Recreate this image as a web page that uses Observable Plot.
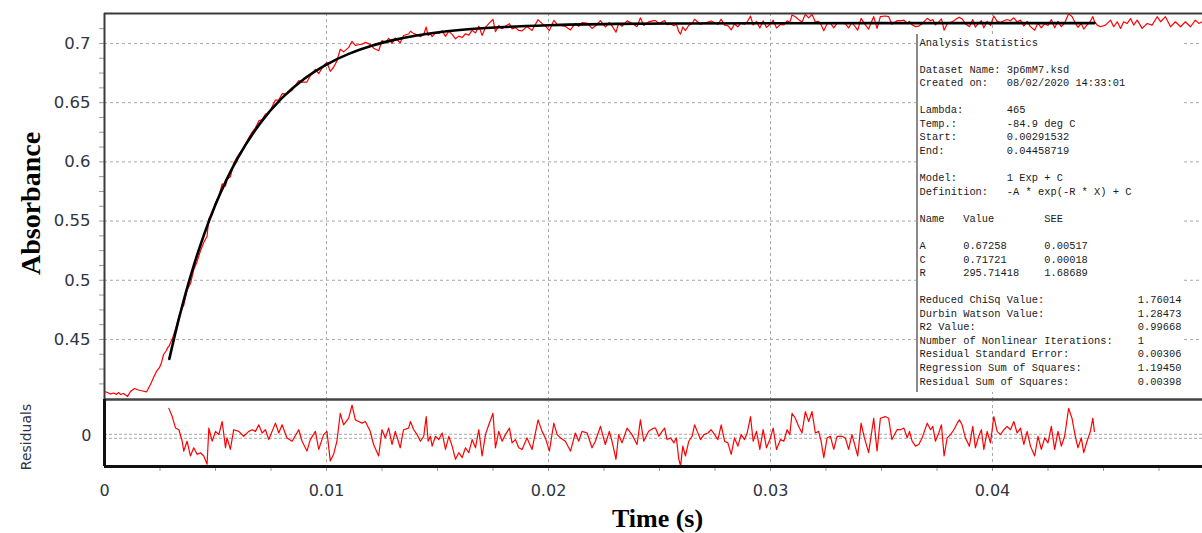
<!DOCTYPE html>
<html><head><meta charset="utf-8">
<script src="https://cdn.jsdelivr.net/npm/d3@7"></script>
<script src="https://cdn.jsdelivr.net/npm/@observablehq/plot@0.6"></script>
<style>
body{margin:0;background:#fff;}
#wrap{position:relative;width:1202px;height:533px;overflow:hidden;background:#fff;}
#wrap svg{position:absolute;left:0;overflow:visible;}
#stats{position:absolute;left:916px;top:34px;width:266px;height:358px;background:#fff;border-left:2px solid #8a8a8a;box-sizing:border-box;padding:2.5px 0 0 1.5px;font-family:"Liberation Mono",monospace;font-size:10.4px;line-height:13.56px;color:#1a1a1a;white-space:pre;}
</style></head><body><div id="wrap"></div>
<script>
// ---------- axes / ticks ----------
const xDomain = [0, 0.04946];
const yDomain = [0.3993, 0.7253];
const resDomain = [-0.0092, 0.0112];
const xTicks = [0, 0.01, 0.02, 0.03, 0.04];
const xGridTicks = [0.01, 0.02, 0.03, 0.04];
const xMinorTicks = [0.0025,0.005,0.0075,0.01,0.0125,0.015,0.0175,0.02,0.0225,0.025,0.0275,0.03,0.0325,0.035,0.0375,0.04,0.0425,0.045,0.0475];
const yTicks = [0.45, 0.5, 0.55, 0.6, 0.65, 0.7];
const yMinorTicks = [0.4125,0.425,0.4375,0.45,0.4625,0.475,0.4875,0.5,0.5125,0.525,0.5375,0.55,0.5625,0.575,0.5875,0.6,0.6125,0.625,0.6375,0.65,0.6625,0.675,0.6875,0.7,0.7125];

// ---------- raw absorbance before the fitted range ----------
const preTime = [0,0.00014,0.00027,0.00041,0.00054,0.00063,0.00072,0.00086,0.00104,0.00117,0.00135,0.00153,0.00171,0.00189,0.00207,0.00221,0.00234,0.00248,0.00257,0.00266,0.00279,0.00284];
const preAbs  = [0.4061,0.4052,0.4040,0.4048,0.4036,0.4052,0.4036,0.4044,0.4019,0.4061,0.4086,0.4073,0.4065,0.4057,0.4120,0.4179,0.4230,0.4264,0.4306,0.4373,0.4407,0.4430];

// ---------- fitted range: time, raw absorbance, residuals ----------
const fitTime = [
0.00290,0.00305,0.00320,0.00335,0.00350,0.00357,0.00372,0.00387,0.00402,0.00417,
0.00432,0.00447,0.00462,0.00470,0.00485,0.00500,0.00515,0.00530,0.00545,0.00552,
0.00567,0.00582,0.00605,0.00627,0.00650,0.00665,0.00680,0.00695,0.00710,0.00725,
0.00740,0.00770,0.00785,0.00800,0.00822,0.00845,0.00875,0.00890,0.00912,0.00927,
0.00950,0.00965,0.00987,0.01002,0.01017,0.01032,0.01047,0.01062,0.01077,0.01100,
0.01115,0.01130,0.01145,0.01160,0.01175,0.01197,0.01212,0.01235,0.01250,0.01265,
0.01280,0.01295,0.01310,0.01332,0.01347,0.01370,
0.01378,0.01393,0.01408,0.01423,0.01438,0.01449,0.01458,0.01468,0.01476,0.01491,
0.01506,0.01521,0.01536,0.01551,0.01566,0.01581,0.01596,0.01611,0.01626,0.01641,
0.01656,0.01671,0.01686,0.01701,0.01716,0.01731,0.01750,0.01761,0.01776,0.01791,
0.01806,0.01824,0.01836,0.01851,0.01866,0.01881,0.01903,0.01926,0.01953,0.01971,
0.01986,0.02004,0.02024,0.02039,0.02054,0.02076,0.02099,0.02121,0.02136,0.02151,
0.02174,0.02196,0.02211,0.02234,0.02256,0.02274,0.02286,0.02304,0.02316,0.02331,
0.02354,0.02376,0.02399,0.02414,0.02429,0.02451,0.02474,
0.02482,0.02497,0.02512,0.02523,0.02534,0.02550,0.02565,0.02576,0.02587,0.02595,
0.02605,0.02617,0.02632,0.02647,0.02658,0.02670,0.02685,0.02700,0.02718,0.02733,
0.02748,0.02763,0.02778,0.02793,0.02808,0.02823,0.02838,0.02853,0.02868,0.02883,
0.02895,0.02910,0.02922,0.02937,0.02952,0.02967,0.02982,0.03000,0.03012,0.03027,
0.03045,0.03060,0.03075,0.03087,0.03097,0.03112,0.03127,0.03142,0.03157,0.03172,
0.03187,0.03202,0.03217,0.03228,0.03240,0.03255,0.03270,0.03285,0.03300,0.03322,
0.03337,0.03352,0.03367,0.03393,0.03408,0.03423,0.03442,0.03465,0.03480,0.03495,
0.03517,0.03532,0.03547,0.03570,
0.03586,0.03601,0.03616,0.03626,0.03638,0.03653,0.03668,0.03683,0.03706,0.03721,
0.03731,0.03743,0.03758,0.03770,0.03782,0.03796,0.03811,0.03826,0.03841,0.03851,
0.03863,0.03878,0.03896,0.03911,0.03923,0.03938,0.03950,0.03961,0.03976,0.03991,
0.04006,0.04021,0.04036,0.04051,0.04066,0.04081,0.04096,0.04111,0.04126,0.04141,
0.04156,0.04171,0.04190,0.04205,0.04220,0.04235,0.04250,0.04265,0.04280,0.04295,
0.04310,0.04325,0.04343,0.04358,0.04373,0.04385,0.04400,0.04411,0.04426,0.04441,
0.04452,0.04459];

const fitRangeAbs = [
0.4440,0.4503,0.4586,0.4695,0.4768,0.4787,0.4918,0.4970,0.5088,0.5157,
0.5247,0.5319,0.5372,0.5522,0.5554,0.5654,0.5710,0.5814,0.5795,0.5852,
0.5874,0.5989,0.6063,0.6119,0.6203,0.6251,0.6287,0.6346,0.6358,0.6404,
0.6408,0.6522,0.6522,0.6576,0.6575,0.6604,0.6686,0.6673,0.6674,0.6728,
0.6782,0.6745,0.6814,0.6840,0.6765,0.6799,0.6853,0.6951,0.6929,0.6967,
0.7018,0.6984,0.6989,0.6994,0.7009,0.6992,0.6960,0.6938,0.7025,0.7007,
0.7044,0.7001,0.7047,0.7006,0.7067,0.7080,
0.7103,0.7083,0.7073,0.7057,0.7076,0.7139,0.7067,0.7085,0.7057,0.7090,
0.7084,0.7107,0.7060,0.7104,0.7077,0.7039,0.7062,0.7050,0.7082,0.7070,
0.7112,0.7089,0.7146,0.7068,0.7135,0.7167,0.7204,0.7100,0.7152,0.7123,
0.7145,0.7167,0.7123,0.7134,0.7110,0.7106,0.7143,0.7110,0.7201,0.7167,
0.7148,0.7109,0.7195,0.7161,0.7152,0.7143,0.7114,0.7169,0.7145,0.7176,
0.7171,0.7127,0.7147,0.7193,0.7139,0.7179,0.7149,0.7095,0.7170,0.7145,
0.7191,0.7171,0.7142,0.7217,0.7152,0.7182,0.7193,
0.7193,0.7168,0.7183,0.7193,0.7158,0.7164,0.7149,0.7164,0.7099,0.7079,
0.7139,0.7109,0.7154,0.7169,0.7204,0.7185,0.7160,0.7175,0.7180,0.7190,
0.7175,0.7160,0.7205,0.7155,0.7150,0.7115,0.7165,0.7141,0.7176,0.7161,
0.7181,0.7231,0.7156,0.7186,0.7131,0.7191,0.7136,0.7166,0.7196,0.7131,
0.7161,0.7156,0.7191,0.7176,0.7241,0.7226,0.7201,0.7181,0.7246,0.7216,
0.7246,0.7182,0.7187,0.7157,0.7107,0.7167,0.7172,0.7132,0.7172,0.7172,
0.7167,0.7132,0.7177,0.7112,0.7212,0.7167,0.7122,0.7227,0.7127,0.7227,
0.7232,0.7227,0.7162,0.7192,
0.7192,0.7197,0.7167,0.7187,0.7157,0.7142,0.7147,0.7167,0.7212,0.7192,
0.7202,0.7157,0.7182,0.7207,0.7112,0.7167,0.7177,0.7192,0.7212,0.7222,
0.7207,0.7167,0.7142,0.7202,0.7137,0.7172,0.7192,0.7132,0.7187,0.7152,
0.7232,0.7187,0.7177,0.7192,0.7202,0.7192,0.7217,0.7182,0.7197,0.7147,
0.7187,0.7142,0.7112,0.7172,0.7132,0.7167,0.7152,0.7202,0.7132,0.7187,
0.7142,0.7172,0.7250,0.7227,0.7172,0.7137,0.7167,0.7122,0.7157,0.7187,
0.7227,0.7187];

const residuals = [
0.0085,0.006,0.0025,0.002,-0.0015,-0.0045,-0.0015,-0.006,-0.0035,-0.0055,
-0.005,-0.006,-0.0085,0.0025,-0.0015,0.0015,0.0005,0.0045,-0.0035,-0.0005,
-0.004,0.002,0.0015,0,0.0015,0.002,0.0015,0.0035,0.001,0.002,
-0.001,0.004,0.001,0.0035,-0.0005,-0.0015,0.002,-0.0015,-0.0045,-0.001,
0.0015,-0.004,0.0005,0.0015,-0.0075,-0.0055,-0.0015,0.007,0.0035,0.0055,
0.0095,0.005,0.0045,0.004,0.0045,0.0015,-0.0025,-0.006,0.002,-0.0005,
0.0025,-0.0025,0.0015,-0.0035,0.002,0.0025,
0.0045,0.002,0.0005,-0.0015,0,0.006,-0.0015,0,-0.003,0,
-0.001,0.001,-0.004,0,-0.003,-0.007,-0.005,-0.0065,-0.0035,-0.005,
-0.001,-0.0035,0.002,-0.006,0.0005,0.0035,0.007,-0.0035,0.0015,-0.0015,
0.0005,0.0025,-0.002,-0.001,-0.0035,-0.004,-0.0005,-0.004,0.005,0.0015,
-0.0005,-0.0045,0.004,0.0005,-0.0005,-0.0015,-0.0045,0.001,-0.0015,0.0015,
0.001,-0.0035,-0.0015,0.003,-0.0025,0.0015,-0.0015,-0.007,0.0005,-0.002,
0.0025,0.0005,-0.0025,0.005,-0.0015,0.0015,0.0025,
0.0025,0,0.0015,0.0025,-0.001,-0.0005,-0.002,-0.0005,-0.007,-0.009,
-0.003,-0.006,-0.0015,0,0.0035,0.0015,-0.001,0.0005,0.001,0.002,
0.0005,-0.001,0.0035,-0.0015,-0.002,-0.0055,-0.0005,-0.003,0.0005,-0.001,
0.001,0.006,-0.0015,0.0015,-0.004,0.002,-0.0035,-0.0005,0.0025,-0.004,
-0.001,-0.0015,0.002,0.0005,0.007,0.0055,0.003,0.001,0.0075,0.0045,
0.0075,0.001,0.0015,-0.0015,-0.0065,-0.0005,0,-0.004,0,0,
-0.0005,-0.004,0.0005,-0.006,0.004,-0.0005,-0.005,0.0055,-0.0045,0.0055,
0.006,0.0055,-0.001,0.002,
0.002,0.0025,-0.0005,0.0015,-0.0015,-0.003,-0.0025,-0.0005,0.004,0.002,
0.003,-0.0015,0.001,0.0035,-0.006,-0.0005,0.0005,0.002,0.004,0.005,
0.0035,-0.0005,-0.003,0.003,-0.0035,0,0.002,-0.004,0.0015,-0.002,
0.006,0.0015,0.0005,0.002,0.003,0.002,0.0045,0.001,0.0025,-0.0025,
0.0015,-0.003,-0.006,0,-0.004,-0.0005,-0.002,0.003,-0.004,0.0015,
-0.003,0,0.0085,0.0055,0,-0.0035,-0.0005,-0.005,-0.0015,0.0015,
0.0055,0.0015];

// ---------- raw absorbance after the fitted range ----------
const postTime = [0.04472,0.04486,0.04509,0.04532,0.04546,0.04562,0.04577,0.04591,0.04607,0.04622,0.04636,0.04652,0.04674,0.04697,0.04719,0.04742,0.04757,0.04779,0.04802,0.04824,0.04847,0.04869,0.04892,0.04914,0.04929,0.04945];
const postAbs  = [0.7155,0.7141,0.7155,0.7197,0.7141,0.7183,0.7127,0.7183,0.7169,0.7211,0.7155,0.7197,0.7127,0.7169,0.7155,0.7226,0.7183,0.7226,0.7141,0.7183,0.7141,0.7183,0.7141,0.7197,0.7169,0.7183];

// ---------- fitted curve (black) ----------
const curveTime = [0.00292,0.00325,0.0035,0.00375,0.004,0.0045,0.005,0.0055,0.006,0.007,0.008,0.009,0.010,0.011,0.012,0.013,0.014,0.016,0.018,0.020,0.023,0.026,0.030,0.035,0.040,0.04459];
const curveAbs  = [0.4336,0.4600,0.4783,0.4953,0.5111,0.5394,0.5639,0.5850,0.6031,0.6323,0.6540,0.6702,0.6822,0.6912,0.6979,0.7028,0.7065,0.7113,0.7139,0.7154,0.7165,0.7169,0.7171,0.7172,0.7172,0.7172];

// ---------- statistics panel text ----------
const statsLines = [
"Analysis Statistics",
"",
"Dataset Name: 3p6mM7.ksd",
"Created on:   08/02/2020 14:33:01",
"",
"Lambda:       465",
"Temp.:        -84.9 deg C",
"Start:        0.00291532",
"End:          0.04458719",
"",
"Model:        1 Exp + C",
"Definition:   -A * exp(-R * X) + C",
"",
"Name   Value        SEE",
"",
"A      0.67258      0.00517",
"C      0.71721      0.00018",
"R      295.71418    1.68689",
"",
"Reduced ChiSq Value:               1.76014",
"Durbin Watson Value:               1.28473",
"R2 Value:                          0.99668",
"Number of Nonlinear Iterations:    1",
"Residual Standard Error:           0.00306",
"Regression Sum of Squares:         1.19450",
"Residual Sum of Squares:           0.00398"
];

// ---------- build tables ----------
const rawRows = [
  ...preTime.map((t, i) => ({t, a: preAbs[i]})),
  ...fitTime.map((t, i) => ({t, a: fitRangeAbs[i]})),
  ...postTime.map((t, i) => ({t, a: postAbs[i]}))
];
const resRows = fitTime.map((t, i) => ({t, r: residuals[i]}));
const curveRows = curveTime.map((t, i) => ({t, a: curveAbs[i]}));
if (fitTime.length !== fitRangeAbs.length || fitTime.length !== residuals.length)
  console.log("length mismatch", fitTime.length, fitRangeAbs.length, residuals.length);

const tickColor = "#2f3542";
const gridStyle = {stroke: "#a8a8a8", strokeOpacity: 1, strokeDasharray: "3,3", strokeWidth: 1};
const fmt = d => String(d);

const main = Plot.plot({
  width: 1202, height: 400,
  marginTop: 13, marginBottom: 1, marginLeft: 104, marginRight: 0,
  x: {domain: xDomain, axis: null},
  y: {domain: yDomain},
  style: {fontFamily: "DejaVu Sans", fontSize: "16.5px", color: tickColor, background: "transparent", overflow: "visible"},
  marks: [
    Plot.gridX(xGridTicks, gridStyle),
    Plot.gridY(yTicks, gridStyle),
    Plot.axisY(yMinorTicks, {tickSize: 5, tickFormat: () => "", stroke: "#999", label: null}),
    Plot.axisY(yTicks, {tickSize: 0, tickPadding: 14, tickFormat: fmt, label: null, fontSize: 16.5, fill: tickColor}),
    Plot.line(rawRows, {x: "t", y: "a", stroke: "#ff0000", strokeWidth: 1.2}),
    Plot.line(curveRows, {x: "t", y: "a", stroke: "#000", strokeWidth: 2.6, curve: "monotone-x"}),
    Plot.ruleY([yDomain[1]], {stroke: "#3a3a3a", strokeWidth: 2}),
    Plot.ruleY([yDomain[0]], {stroke: "#444", strokeWidth: 2}),
    Plot.ruleX([xDomain[0]], {stroke: "#3a3a3a", strokeWidth: 2}),
    Plot.text(["Absorbance"], {frameAnchor: "left", textAnchor: "middle", lineAnchor: "middle", rotate: -90, dx: -73, dy: -3,
      fontSize: 28, fontWeight: "bold", fontFamily: "Liberation Serif", fill: "#000"})
  ]
});
main.style.top = "0px";

const resid = Plot.plot({
  width: 1202, height: 135,
  marginTop: 1, marginBottom: 67, marginLeft: 104, marginRight: 0,
  x: {domain: xDomain},
  y: {domain: resDomain},
  style: {fontFamily: "DejaVu Sans", fontSize: "16px", color: tickColor, background: "transparent", overflow: "visible"},
  marks: [
    Plot.gridX(xGridTicks, gridStyle),
    Plot.ruleY([0], {dy: -2, stroke: "#a8a8a8", strokeDasharray: "3,2"}),
    Plot.ruleY([0], {dy: 2, stroke: "#a8a8a8", strokeDasharray: "3,2"}),
    Plot.axisY([0], {tickSize: 0, tickPadding: 13, tickFormat: fmt, label: null, fontSize: 16, fill: tickColor}),
    Plot.axisX(xMinorTicks, {tickSize: 5, tickFormat: () => "", stroke: "#999", label: null}),
    Plot.axisX(xTicks, {tickSize: 0, tickPadding: 18, tickFormat: fmt, label: null, fontSize: 16, fill: tickColor}),
    Plot.line(resRows, {x: "t", y: "r", stroke: "#ff0000", strokeWidth: 1.2}),
    Plot.ruleY([resDomain[1]], {stroke: "#444", strokeWidth: 2}),
    Plot.ruleY([resDomain[0]], {stroke: "#111", strokeWidth: 3}),
    Plot.ruleX([xDomain[0]], {stroke: "#111", strokeWidth: 3}),
    Plot.text(["Residuals"], {frameAnchor: "left", textAnchor: "middle", lineAnchor: "middle", rotate: -90, dx: -78, dy: 4,
      fontSize: 14, fontFamily: "DejaVu Sans", fill: tickColor}),
    Plot.text(["Time (s)"], {frameAnchor: "bottom", textAnchor: "middle", lineAnchor: "middle", dx: 4, dy: 52,
      fontSize: 26, fontWeight: "bold", fontFamily: "Liberation Serif", fill: "#000"})
  ]
});
resid.style.top = "398px";

const wrap = document.getElementById("wrap");
wrap.appendChild(main);
wrap.appendChild(resid);
const stats = document.createElement("div");
stats.id = "stats";
stats.textContent = statsLines.join("\n");
wrap.appendChild(stats);
</script></body></html>
